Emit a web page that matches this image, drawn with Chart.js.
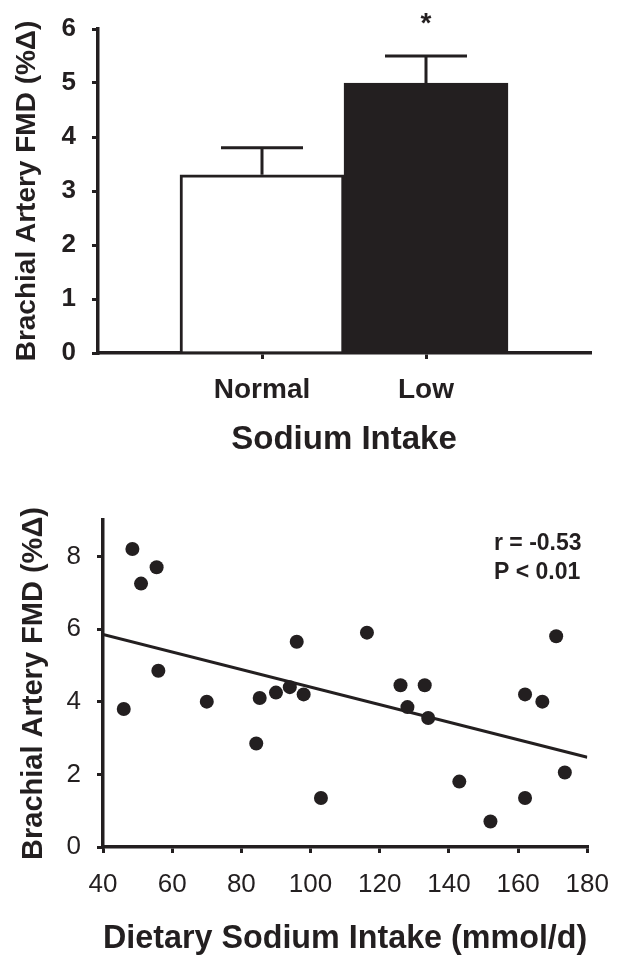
<!DOCTYPE html>
<html>
<head>
<meta charset="utf-8">
<script src="https://cdn.jsdelivr.net/npm/chart.js@4.4.1/dist/chart.umd.min.js"></script>
<style>
  html, body { margin: 0; padding: 0; background: #fff; }
  #wrap { position: relative; width: 628px; height: 967px; }
  .box { position: absolute; left: 0; width: 628px; }
  #top { top: 0; height: 470px; }
  #bottom { top: 470px; height: 497px; }
</style>
</head>
<body>
<div id="wrap">
  <div class="box" id="top"><canvas id="barChart"></canvas></div>
  <div class="box" id="bottom"><canvas id="scatterChart"></canvas></div>
</div>
<script>
// bar panel
const sodiumGroups = ['Normal', 'Low'];
const fmdMeans = [3.3, 5.0];
const fmdErrors = [0.5, 0.5];
const barYTicks = [0, 1, 2, 3, 4, 5, 6];

// scatter panel
const sodiumIntake = [46, 48.5, 51, 55.5, 56, 70, 84.3, 85.3, 90, 94, 96, 98, 103, 116.3,
  126, 128, 133, 134, 143, 152, 162, 162, 167, 171, 173.5];
const fmdValues = [3.8, 8.2, 7.25, 7.7, 4.85, 4.0, 2.85, 4.1, 4.25, 4.4, 5.65, 4.2, 1.35, 5.9,
  4.45, 3.85, 4.45, 3.55, 1.8, 0.7, 4.2, 1.35, 4.0, 5.8, 2.05];
const fitX = [40, 180];
const fitY = [5.85, 2.47];
const scatterXTicks = [40, 60, 80, 100, 120, 140, 160, 180];
const scatterYTicks = [0, 2, 4, 6, 8];
const statLines = ['r = -0.53', 'P < 0.01'];

const ink = '#231f20';
const fam = '"Liberation Sans", Arial, sans-serif';
Chart.defaults.font.family = fam;
Chart.defaults.color = ink;

// empty slots either side so the two bars sit at 1/3 and 2/3 of the axis
const barLabels = [''].concat(sodiumGroups, ['']);
const barData = [null].concat(fmdMeans, [null]);

// error bars (upward only) + asterisk over the low bar
const errorBars = {
  id: 'errorBars',
  afterDatasetsDraw(chart) {
    const ctx = chart.ctx;
    const xs = chart.scales.x, ys = chart.scales.y;
    const half = (xs.getPixelForValue(2) - xs.getPixelForValue(1)) * 0.25;
    ctx.save();
    ctx.strokeStyle = ink;
    ctx.lineWidth = 3;
    fmdMeans.forEach((m, i) => {
      const cx = xs.getPixelForValue(i + 1);
      const y0 = ys.getPixelForValue(m);
      const y1 = ys.getPixelForValue(m + fmdErrors[i]);
      ctx.beginPath();
      ctx.moveTo(cx, y0);
      ctx.lineTo(cx, y1);
      ctx.moveTo(cx - half, y1);
      ctx.lineTo(cx + half, y1);
      ctx.stroke();
    });
    ctx.fillStyle = ink;
    ctx.font = 'bold 28px ' + fam;
    ctx.textAlign = 'center';
    ctx.textBaseline = 'middle';
    const ax = xs.getPixelForValue(2);
    const ay = ys.getPixelForValue(fmdMeans[1] + fmdErrors[1]) - 32;
    ctx.fillText('*', ax, ay);
    ctx.restore();
  }
};

new Chart(document.getElementById('barChart'), {
  type: 'bar',
  data: {
    labels: barLabels,
    datasets: [{
      data: barData,
      backgroundColor: ['#ffffff', '#ffffff', ink, ink],
      borderColor: ink,
      borderWidth: 3,
      barPercentage: 1,
      categoryPercentage: 1
    }]
  },
  options: {
    responsive: true,
    maintainAspectRatio: false,
    animation: false,
    layout: { padding: { top: 23, right: 38, left: 0, bottom: 0 } },
    plugins: { legend: { display: false }, tooltip: { enabled: false } },
    scales: {
      x: {
        offset: false,
        afterBuildTicks: s => { s.ticks = sodiumGroups.map((g, i) => ({ value: i + 1 })); },
        afterFit: s => { s.height = 117; },
        ticks: {
          callback: v => sodiumGroups[v - 1] || '',
          font: { size: 28, weight: 'bold', lineHeight: 1 },
          padding: 17,
          color: ink
        },
        grid: { offset: false, drawOnChartArea: false, drawTicks: true, tickLength: 6, lineWidth: 3, color: ink },
        border: { display: true, width: 3.5, color: ink },
        title: {
          display: true,
          text: 'Sodium Intake',
          font: { size: 33, weight: 'bold', lineHeight: 1 },
          padding: { top: 0, bottom: 14 },
          color: ink
        }
      },
      y: {
        min: 0,
        max: 6,
        afterBuildTicks: s => { s.ticks = barYTicks.map(v => ({ value: v })); },
        afterFit: s => { s.width = 98; },
        ticks: { font: { size: 26, weight: 'bold', lineHeight: 1 }, padding: 16, color: ink },
        grid: { drawOnChartArea: false, drawTicks: true, tickLength: 6, lineWidth: 3, color: ink },
        border: { display: true, width: 3.5, color: ink },
        title: {
          display: true,
          text: 'Brachial Artery FMD (%Δ)',
          font: { size: 28, weight: 'bold', lineHeight: 1 },
          padding: { top: 13, bottom: 0 },
          color: ink
        }
      }
    }
  },
  plugins: [errorBars]
});

// r and P text in the upper right of the scatter panel
const statText = {
  id: 'statText',
  afterDraw(chart) {
    const ctx = chart.ctx;
    ctx.save();
    ctx.fillStyle = ink;
    ctx.font = 'bold 23px ' + fam;
    ctx.textAlign = 'left';
    ctx.textBaseline = 'middle';
    statLines.forEach((t, i) => ctx.fillText(t, 494, 74 + i * 29));
    ctx.restore();
  }
};

new Chart(document.getElementById('scatterChart'), {
  type: 'scatter',
  data: {
    datasets: [{
      data: sodiumIntake.map((x, i) => ({ x: x, y: fmdValues[i] })),
      backgroundColor: ink,
      borderWidth: 0,
      pointRadius: 7,
      order: 1
    }, {
      type: 'line',
      data: fitX.map((x, i) => ({ x: x, y: fitY[i] })),
      borderColor: ink,
      borderWidth: 3,
      pointRadius: 0,
      fill: false,
      order: 2
    }]
  },
  options: {
    responsive: true,
    maintainAspectRatio: false,
    animation: false,
    layout: { padding: { top: 50, right: 35, left: 0, bottom: 0 } },
    plugins: { legend: { display: false }, tooltip: { enabled: false } },
    scales: {
      x: {
        type: 'linear',
        min: 40,
        max: 180,
        afterBuildTicks: s => { s.ticks = scatterXTicks.map(v => ({ value: v })); },
        afterFit: s => { s.height = 120; },
        ticks: { font: { size: 26, lineHeight: 1 }, padding: 19, color: ink },
        grid: { drawOnChartArea: false, drawTicks: true, tickLength: 6, lineWidth: 3, color: ink },
        border: { display: true, width: 3.5, color: ink },
        title: {
          display: true,
          text: 'Dietary Sodium Intake (mmol/d)',
          font: { size: 34, weight: 'bold', lineHeight: 1 },
          padding: { top: 0, bottom: 11 },
          color: ink
        }
      },
      y: {
        min: 0,
        max: 9,
        afterBuildTicks: s => { s.ticks = scatterYTicks.map(v => ({ value: v })); },
        afterFit: s => { s.width = 103; },
        ticks: { font: { size: 26, lineHeight: 1 }, padding: 16, color: ink },
        grid: { drawOnChartArea: false, drawTicks: true, tickLength: 6, lineWidth: 3, color: ink },
        border: { display: true, width: 3.5, color: ink },
        title: {
          display: true,
          text: 'Brachial Artery FMD (%Δ)',
          font: { size: 29, weight: 'bold', lineHeight: 1 },
          padding: { top: 19, bottom: 0 },
          color: ink
        }
      }
    }
  },
  plugins: [statText]
});
</script>
</body>
</html>
